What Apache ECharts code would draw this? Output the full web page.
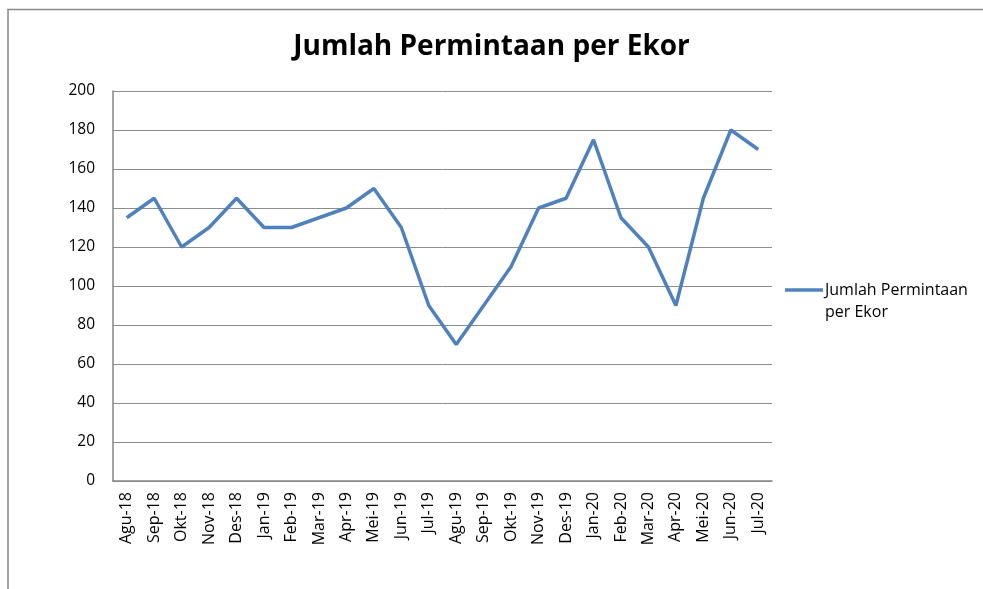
<!DOCTYPE html>
<html>
<head>
<meta charset="utf-8">
<script src="https://cdn.jsdelivr.net/npm/echarts@6/dist/echarts.min.js"></script>
<style>html,body{margin:0;padding:0;background:#fff;}#c{width:983px;height:589px;}</style>
</head>
<body>
<div id="c"></div>
<script>
const categories = ['Agu-18','Sep-18','Okt-18','Nov-18','Des-18','Jan-19','Feb-19','Mar-19','Apr-19','Mei-19','Jun-19','Jul-19','Agu-19','Sep-19','Okt-19','Nov-19','Des-19','Jan-20','Feb-20','Mar-20','Apr-20','Mei-20','Jun-20','Jul-20'];
const values = [135,145,120,130,145,130,130,135,140,150,130,90,70,90,110,140,145,175,135,120,90,145,180,170];
const seriesName = 'Jumlah Permintaan per Ekor';
const yTicks = {min: 0, max: 200, interval: 20};

const chart = echarts.init(document.getElementById('c'));
chart.setOption({
  backgroundColor: '#fff',
  animation: false,
  title: {
    text: 'Jumlah Permintaan per Ekor',
    left: 'center',
    top: 28,
    textStyle: {fontFamily: 'Open Sans', fontWeight: 'bold', fontSize: 28, color: '#000'}
  },
  grid: {left: 113, right: 211, top: 91, bottom: 108},
  xAxis: {
    type: 'category',
    data: categories,
    boundaryGap: true,
    axisLine: {show: true, lineStyle: {color: '#868686', width: 1.5}},
    axisTick: {show: false},
    axisLabel: {rotate: 90, fontFamily: 'Open Sans', fontSize: 16, color: '#000', margin: 11, interval: 0}
  },
  yAxis: {
    type: 'value',
    min: yTicks.min, max: yTicks.max, interval: yTicks.interval,
    axisLine: {show: true, lineStyle: {color: '#868686', width: 1.5}},
    axisTick: {show: false},
    axisLabel: {fontFamily: 'Open Sans', fontSize: 15.5, color: '#000', margin: 18},
    splitLine: {lineStyle: {color: '#8c8c8c', width: 1}}
  },
  series: [{
    name: seriesName,
    type: 'line',
    data: values,
    symbol: 'none',
    lineStyle: {color: '#4F81BD', width: 3.5},
    itemStyle: {color: '#4F81BD'}
  }],
  graphic: [
    {type: 'polyline', shape: {points: [[8, 1000], [8, 9.5], [1000, 9.5]]}, style: {stroke: '#888', lineWidth: 1.5, fill: null}},
    {type: 'line', shape: {x1: 785, y1: 290, x2: 823, y2: 290}, style: {stroke: '#4F81BD', lineWidth: 3.5}},
    {type: 'text', left: 825, top: 279, style: {text: 'Jumlah Permintaan\nper Ekor', font: '16px "Open Sans"', fill: '#000', lineHeight: 22}}
  ]
});
</script>
</body>
</html>
